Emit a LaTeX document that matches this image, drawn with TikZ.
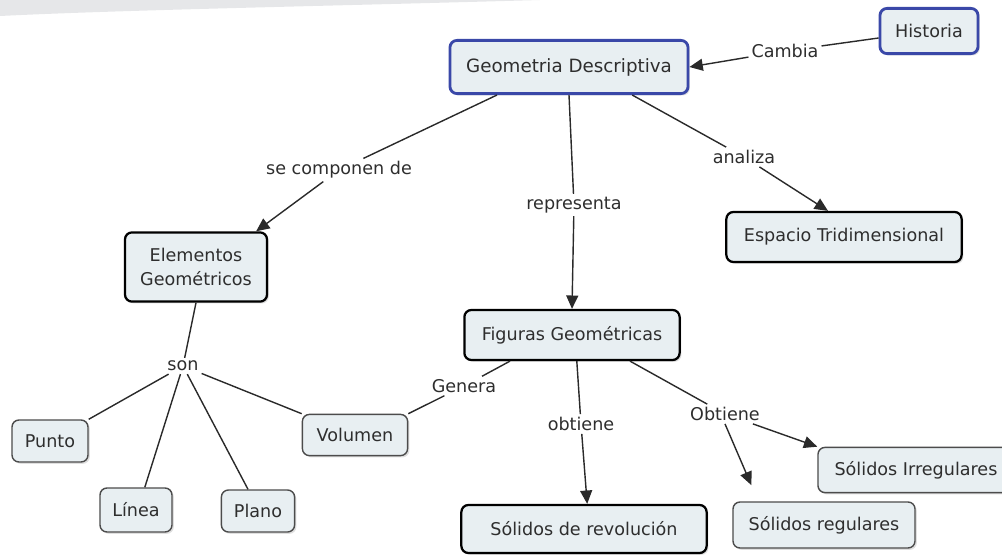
\documentclass[tikz,border=0pt]{standalone}
\usepackage{fontspec}
\setmainfont{DejaVu Sans}
\usetikzlibrary{arrows.meta,shadows}
\definecolor{boxfill}{HTML}{E8EFF2}
\definecolor{bluebord}{HTML}{3A48A8}
\definecolor{txt}{HTML}{2E2E2E}
\definecolor{swoosh}{HTML}{E6E7E9}
\definecolor{lineclr}{HTML}{2A2A2A}
\begin{document}
\begin{tikzpicture}[x=0.025cm,y=-0.025cm,
  box/.style={draw=black, line width=1.6pt, rounded corners=5pt, fill=boxfill,
    text=txt, font=\fontsize{12.5}{17}\selectfont, align=center, inner sep=0pt,
    drop shadow={shadow xshift=1.3pt,shadow yshift=-1.3pt,opacity=0.25}},
  bluebox/.style={box, draw=bluebord, line width=2pt},
  smallbox/.style={box, draw=black!70, line width=1pt},
  lbl/.style={text=txt, font=\fontsize{12.5}{15}\selectfont, inner sep=2pt},
  conn/.style={draw=lineclr, line width=1pt},
  arr/.style={conn, -{Triangle[length=9.5pt,width=8.5pt]}},
]
\useasboundingbox (0,0) rectangle (1002,554);
\fill[swoosh] (0,0) -- (540,0) .. controls (330,6) and (120,10) .. (0,16) -- cycle;

% concept boxes
\node[bluebox, minimum width=5.95cm, minimum height=1.33cm, font=\fontsize{13}{15}\selectfont] (geo) at (569,67) {Geometria Descriptiva};
\node[bluebox, minimum width=2.45cm, minimum height=1.13cm] (hist) at (929,31) {Historia};
\node[box, minimum width=3.55cm, minimum height=1.73cm] (elem) at (196,267) {Elementos\\Geométricos};
\node[box, minimum width=5.88cm, minimum height=1.25cm] (esp) at (844,237) {Espacio Tridimensional};
\node[box, minimum width=5.38cm, minimum height=1.25cm] (fig) at (572,335) {Figuras Geométricas};
\node[box, minimum width=6.13cm, minimum height=1.2cm] (rev) at (584,529) {Sólidos de revolución};
\node[smallbox, minimum width=1.9cm, minimum height=1.05cm] (punto) at (50,441) {Punto};
\node[smallbox, minimum width=1.8cm, minimum height=1.1cm] (linea) at (136,510) {Línea};
\node[smallbox, minimum width=1.83cm, minimum height=1.05cm] (plano) at (258,511) {Plano};
\node[smallbox, minimum width=2.63cm, minimum height=1.03cm] (vol) at (355,435) {Volumen};
\node[smallbox, minimum width=4.55cm, minimum height=1.15cm] (reg) at (824,525) {Sólidos regulares};
\node[smallbox, minimum width=4.9cm, minimum height=1.13cm] (irr) at (916,470) {Sólidos Irregulares};

% linking phrases
\node[lbl] (cambia) at (785,51) {Cambia};
\node[lbl] (secomp) at (339,170) {se componen de};
\node[lbl] (repr) at (574,205) {representa};
\node[lbl] (anal) at (744,157) {analiza};
\node[lbl] (son) at (183,366) {son};
\node[lbl] (gen) at (464,386) {Genera};
\node[lbl] (obt) at (581,424) {obtiene};
\node[lbl] (obt2) at (725,414) {Obtiene};

% connectors
\draw[conn] (hist) -- (cambia);
\draw[arr] (cambia) -- (geo.east);
\draw[conn] ([xshift=-1.8cm]geo.south) -- (secomp);
\draw[arr] (secomp) -- ([xshift=-0.3cm]elem.north east);
\draw[conn] (geo.south) -- (repr);
\draw[arr] (repr) -- (fig.north);
\draw[conn] ([xshift=1.58cm]geo.south) -- (anal);
\draw[arr] (anal) -- ([xshift=-0.4cm]esp.north);
\draw[conn] (elem.south) -- (son);
\draw[conn] (son) -- (punto.north east);
\draw[conn] (son) -- ([xshift=0.22cm]linea.north);
\draw[conn] (son) -- ([xshift=-0.25cm]plano.north);
\draw[conn] (son) -- (vol.north west);
\draw[conn] ([xshift=-1.55cm]fig.south) -- (gen);
\draw[conn] (gen) -- (vol.north east);
\draw[conn] ([xshift=0.12cm]fig.south) -- (obt);
\draw[arr] (obt) -- ([xshift=0.08cm]rev.north);
\draw[conn] ([xshift=1.45cm]fig.south) -- (obt2);
\draw[arr] (obt2) -- (irr.north west);
\draw[arr, shorten >=0.44cm] (obt2.south) -- ([xshift=0.65cm]reg.north west);
\end{tikzpicture}
\end{document}
